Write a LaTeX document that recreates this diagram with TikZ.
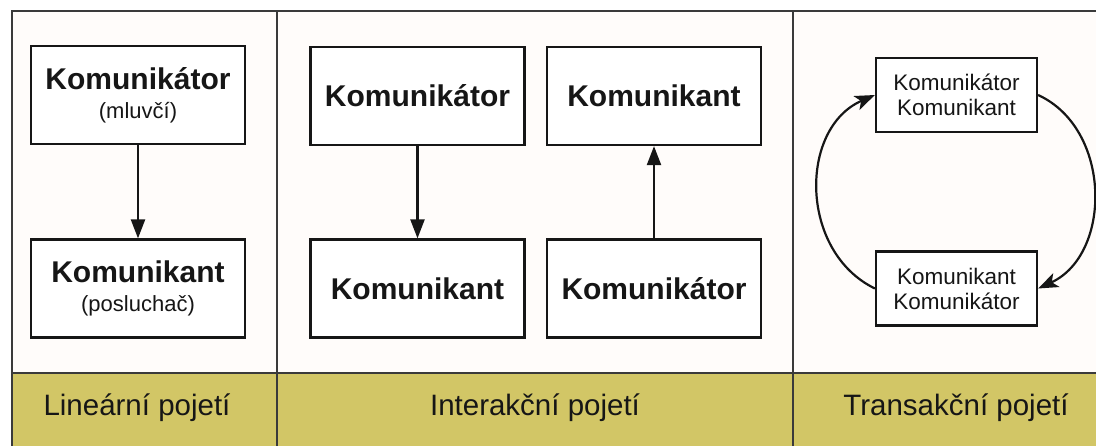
\documentclass[tikz,border=0pt]{standalone}
\usepackage{fontspec}
\setmainfont{Liberation Sans}
\usetikzlibrary{arrows.meta}
\definecolor{panelbg}{HTML}{FFFCFA}
\definecolor{bandbg}{HTML}{D2C666}
\definecolor{frameline}{HTML}{3A3A3A}
\definecolor{ink}{HTML}{161616}
\tikzset{
  box/.style={draw=ink, line width=2.2pt, fill=white, rectangle, inner sep=0pt, align=center, text=ink},
  bigbox/.style={box, minimum width=214pt, minimum height=98pt},
  smallbox/.style={box, minimum width=161pt, minimum height=74pt},
  pairlbl/.style={font=\fontsize{22}{29}\selectfont},
  boldlbl/.style={font=\fontsize{30}{34}\selectfont\bfseries},
  twoline/.style={font=\fontsize{22.5}{25}\selectfont},
  bandlbl/.style={font=\fontsize{29.5}{32}\selectfont, text=ink},
  link/.style={draw=ink, line width=2.2pt, -{Triangle[length=19pt,width=14pt]}},
  curvelink/.style={draw=ink, line width=2.2pt, -{Stealth[length=20pt,width=15pt,inset=5pt]}},
}
\newcommand{\headword}[1]{{\fontsize{30}{30}\selectfont\bfseries #1}}
\begin{document}
\begin{tikzpicture}[x=1pt,y=-1pt]
\useasboundingbox (0,0) rectangle (1096,445);
\clip (0,0) rectangle (1096,445);
\fill[white] (0,0) rectangle (1096,445);
% panels and caption band
\fill[panelbg] (12,11) rectangle (1110,373);
\fill[bandbg] (12,373) rectangle (1110,450);
\draw[frameline, line width=1.5pt] (12,450) -- (12,11) -- (1110,11);
\draw[frameline, line width=1.5pt] (12,373) -- (1110,373);
\draw[frameline, line width=1.5pt] (277,11) -- (277,450);
\draw[frameline, line width=1.5pt] (793,11) -- (793,450);

% linear model
\node[bigbox, pairlbl] (lt) at (138,95) {\headword{Komunikátor}\\(mluvčí)};
\node[bigbox, pairlbl] (lb) at (138,288.5) {\headword{Komunikant}\\(posluchač)};
\draw[link] (lt) -- (lb);

% interaction model
\node[bigbox, boldlbl] (it1) at (417.5,96) {Komunikátor};
\node[bigbox, boldlbl] (ib1) at (417.5,288.5) {Komunikant};
\node[bigbox, boldlbl] (it2) at (654,96) {Komunikant};
\node[bigbox, boldlbl] (ib2) at (654,288.5) {Komunikátor};
\draw[link] (it1) -- (ib1);
\draw[link] (ib2) -- (it2);

% transaction model
\node[smallbox, twoline] (tt) at (956.5,95) {Komunikátor\\Komunikant};
\node[smallbox, twoline] (tb) at (956.5,288.5) {Komunikant\\Komunikátor};
\draw[curvelink] (tb.west) .. controls +(-76,-37) and +(-76,33) .. (tt.west);
\draw[curvelink] (tt.east) .. controls +(74,34) and +(74,-34) .. (tb.east);

% captions
\node[bandlbl] (c1) at (137,408) {Lineární pojetí};
\node[bandlbl] (c2) at (535,408) {Interakční pojetí};
\node[bandlbl] (c3) at (956,408) {Transakční pojetí};
\end{tikzpicture}
\end{document}
